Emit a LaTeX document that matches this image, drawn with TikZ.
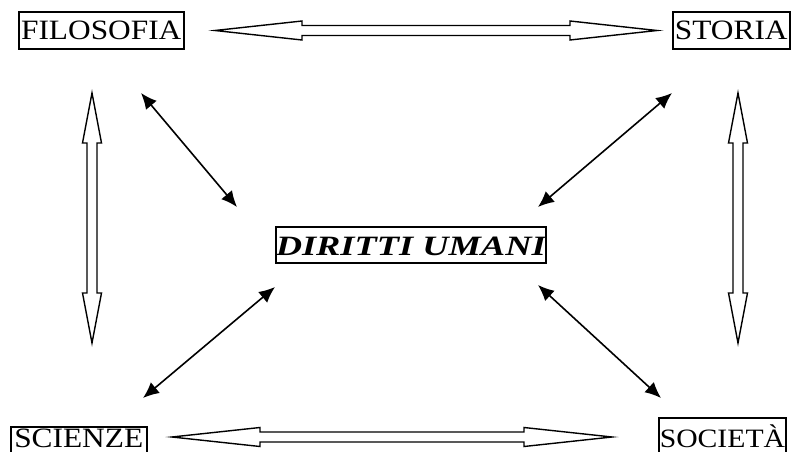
\documentclass[tikz,border=0pt]{standalone}
\usepackage{fontspec}
\setmainfont{Liberation Serif}
\newfontfamily\boxfont[FakeStretch=1.12]{Liberation Serif}
\newfontfamily\centfont[FakeStretch=1.3]{Liberation Serif}
\usetikzlibrary{calc,arrows.meta}
\tikzset{
  lbl/.style={draw, line width=1.5pt, inner sep=0pt, font=\boxfont\fontsize{28}{30}\selectfont},
  hollow/.style={draw, line width=1.4pt, line join=miter, fill=white},
  dbl/.style={line width=1.6pt, {Latex[length=16pt,width=14pt]}-{Latex[length=16pt,width=14pt]}},
}
\newcommand\hollowarrow[3]{%
  \draw[hollow] let \p1=#1, \p2=#2, \n1={atan2(\y2-\y1,\x2-\x1)}, \n2={veclen(\x2-\x1,\y2-\y1)} in
   [shift={(\p1)}, rotate=\n1]
   (0,0) -- (#3,9.5) -- (#3,5) -- (\n2-#3,5) -- (\n2-#3,9.5) -- (\n2,0)
   -- (\n2-#3,-9.5) -- (\n2-#3,-5) -- (#3,-5) -- (#3,-9.5) -- cycle;
}
\begin{document}
\begin{tikzpicture}[x=1pt,y=-1pt]
\clip (0,0) rectangle (793,452);
\fill[white] (0,0) rectangle (793,452);

% boxes
\node[lbl, anchor=base west, minimum width=165pt, text height=28pt, text depth=9pt] (filo) at (18,40) {FILOSOFIA};
\node[lbl, anchor=base west, minimum width=117pt, text height=28pt, text depth=9pt] (stor) at (672,40) {STORIA};
\node[lbl, anchor=base west, minimum width=255pt, text height=28pt, text depth=8pt,
      font=\centfont\bfseries\itshape\fontsize{28}{30}\selectfont] (dir) at (275,255) {DIRITTI UMANI};
\node[lbl, anchor=base west, minimum width=136pt, text height=20pt, text depth=17pt] (sci) at (10,447) {SCIENZE};
\node[lbl, anchor=base west, inner xsep=1pt, text height=29pt, text depth=17pt,
      font=\boxfont\fontsize{26.5}{30}\selectfont] (soc) at (658,447) {SOCIET\`A\hspace{6pt}};

% hollow double arrows
\coordinate (tl) at (215,30.5);
\coordinate (tr) at (657,30.5);
\coordinate (bl) at (172,437);
\coordinate (br) at (612,437);
\coordinate (lt) at (92,93);
\coordinate (lb) at (92,343);
\coordinate (rt) at (738,93);
\coordinate (rb) at (738,343);
\hollowarrow{(tl)}{(tr)}{87}
\hollowarrow{(bl)}{(br)}{88}
\hollowarrow{(lt)}{(lb)}{50}
\hollowarrow{(rt)}{(rb)}{50}

% diagonal arrows
\coordinate (d1a) at (141,93);  \coordinate (d1b) at (237,207);
\coordinate (d2a) at (672,93);  \coordinate (d2b) at (538,207);
\coordinate (d3a) at (275,287); \coordinate (d3b) at (143,398);
\coordinate (d4a) at (538,285); \coordinate (d4b) at (661,398);
\draw[dbl] (d1a) -- (d1b);
\draw[dbl] (d2a) -- (d2b);
\draw[dbl] (d3a) -- (d3b);
\draw[dbl] (d4a) -- (d4b);
\end{tikzpicture}
\end{document}
